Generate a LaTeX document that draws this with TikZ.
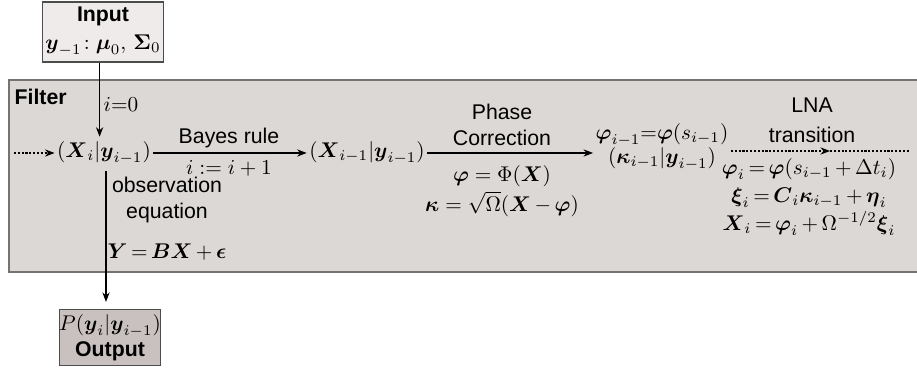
\documentclass[tikz,border=0pt]{standalone}
\usepackage{amsmath}
\usepackage{fontspec}
\setsansfont{Liberation Sans}
\usetikzlibrary{arrows.meta}

\definecolor{inbg}{HTML}{EFEBEA}
\definecolor{filterbg}{HTML}{DCD8D5}
\definecolor{outbg}{HTML}{C9C1C0}

\begin{document}
\begin{tikzpicture}[x=0.47pt, y=-0.47pt,
    >={Stealth[length=4.5pt, width=3.4pt]},
    line width=0.5pt,
    box/.style={draw=black!70, inner sep=0pt, align=center, font=\sffamily},
    lbl/.style={font=\sffamily, align=center, inner sep=1pt},
    eq/.style={align=center, inner sep=1pt},
    dots/.style={dash pattern=on 1pt off 0.8pt}]
  \useasboundingbox (0,0) rectangle (917,369);
  % filter panel
  \fill[filterbg] (9,80) rectangle (917,272);
  \draw[black!55, line width=1pt] (917,80) -- (9,80) -- (9,272) -- (917,272);
  \node[lbl, anchor=west, font=\sffamily\bfseries] (filter) at (12,97) {Filter};
  % input and output boxes
  \node[box, fill=inbg, minimum width=56.9pt, minimum height=28.2pt] (input) at (103,32)
    {\textbf{Input}\\[1pt] $\boldsymbol{y}_{-1}\!:\boldsymbol{\mu}_0,\,\boldsymbol{\Sigma}_0$};
  \node[box, fill=outbg, minimum width=45.1pt, minimum height=25.9pt] (output) at (110,337.5)
    {$P(\boldsymbol{y}_i|\boldsymbol{y}_{i-1})$\\\textbf{Output}};
  % main row
  \coordinate (start) at (14,153);
  \node[eq] (xi) at (104,153) {$(\boldsymbol{X}_i|\boldsymbol{y}_{i-1})$};
  \node[eq] (xb) at (367,153) {$(\boldsymbol{X}_{i-1}|\boldsymbol{y}_{i-1})$};
  \node[eq] (xc) at (662,147)
    {$\boldsymbol{\varphi}_{i-1}{=}\boldsymbol{\varphi}(s_{i-1})$\\[-1pt]$(\boldsymbol{\kappa}_{i-1}|\boldsymbol{y}_{i-1})$};
  \coordinate (lnamid) at (830,151);
  \coordinate (lnaend) at (910,151);
  \draw[dots, ->] (start) -- (xi);
  \draw[->] ([xshift=-1.6pt]input.south) -- ([xshift=-1.6pt, yshift=1pt]input.south |- xi.north);
  \node[eq] (izero) at (121,104) {$i{=}0$};
  \draw[->] (xi) -- (xb);
  \node[lbl] (bayes) at (229,138) {Bayes rule};
  \node[eq] (incr) at (229,168) {$i:=i+1$};
  \draw[->] (xb) -- (xb -| xc.west);
  \node[lbl] (phase) at (502,125) {Phase\\Correction};
  \node[eq] (phaseeq) at (502,191)
    {$\boldsymbol{\varphi}=\Phi(\boldsymbol{X})$\\[2pt]$\boldsymbol{\kappa}=\sqrt{\Omega}(\boldsymbol{X}\,{-}\,\boldsymbol{\varphi})$};
  % LNA transition
  \draw[dots, ->] (xc.east |- lnamid) -- (lnamid);
  \draw[dots] (lnamid) -- (lnaend);
  \node[lbl] (lna) at (812,120) {LNA\\[2pt]transition};
  \node[eq] (lnaeq) at (809,197)
    {$\boldsymbol{\varphi}_i\,{=}\,\boldsymbol{\varphi}(s_{i-1}\,{+}\,\Delta t_i)$\\[1pt]
     $\boldsymbol{\xi}_i\,{=}\,\boldsymbol{C}_i\boldsymbol{\kappa}_{i-1}\,{+}\,\boldsymbol{\eta}_i$\\[1pt]
     $\boldsymbol{X}_i\,{=}\,\boldsymbol{\varphi}_i\,{+}\,\Omega^{-1/2}\boldsymbol{\xi}_i$};
  % observation
  \coordinate (obs) at (106,171);
  \draw[->, shorten >=3.5pt] (obs) -- (obs |- output.north);
  \node[lbl] (obslbl) at (167,200) {observation\\equation};
  \node[eq] (obseq) at (167,252) {$\boldsymbol{Y}\,{=}\,\boldsymbol{B}\boldsymbol{X}\,{+}\,\boldsymbol{\epsilon}$};
\end{tikzpicture}
\end{document}
